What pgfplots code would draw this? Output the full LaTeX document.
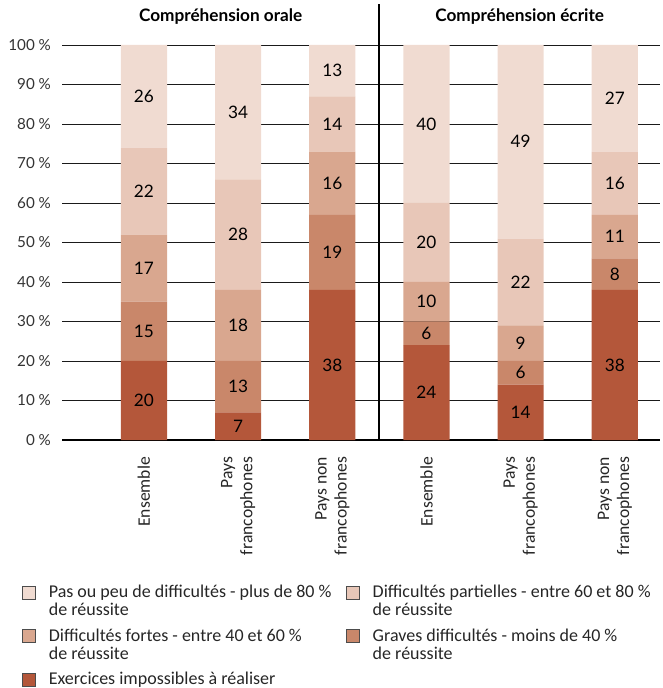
\documentclass[border=0pt]{standalone}
\usepackage{pgfplots}
\pgfplotsset{compat=1.18}
\usepackage{pgfplotstable}
\usepackage{fontspec}
\setmainfont{Lato}
\newfontfamily\narrowfont{Carlito}

\definecolor{cPeu}{HTML}{F0DBD1}
\definecolor{cPart}{HTML}{E8C7B8}
\definecolor{cFort}{HTML}{D9A78F}
\definecolor{cGrav}{HTML}{C9876A}
\definecolor{cImp}{HTML}{B4573A}
\definecolor{cGrid}{HTML}{1A1A1A}

% x = 0..2 : compréhension orale ; x = 3..5 : compréhension écrite
\pgfplotstableread{
x imp grav fort part peu
0 20 15 17 22 26
1  7 13 18 28 34
2 38 19 16 14 13
3 24  6 10 20 40
4 14  6  9 22 49
5 38  8 11 16 27
}\data

\pgfplotsset{
  frame/.style={
    at={(0,0)}, anchor=south west, scale only axis,
    width=299pt, height=197.5pt,
    xmin=-0.87, xmax=5.48, ymin=0, ymax=100,
    /pgf/number format/assume math mode=true,
  },
  sq/.style={legend image code/.code={%
    \draw[##1,draw=black!70,line width=0.45pt] (0pt,-0.6pt) rectangle (6.4pt,5.8pt);}},
}
\newcommand{\entry}[1]{\parbox[t]{146.5pt}{\raggedright #1}}

\begin{document}
\begin{tikzpicture}
\path[use as bounding box] (-31pt,-124pt) rectangle (300pt,220pt);

\begin{axis}[frame,
  ybar stacked, bar width=0.49, clip=false,
  axis x line*=bottom, axis y line*=left,
  y axis line style={draw=none},
  x axis line style={line width=1.1pt, black},
  major tick length=0pt,
  ytick={0,10,...,100},
  ymajorgrids, grid style={cGrid, line width=0.45pt},
  yticklabel={\pgfmathprintnumber{\tick}~\%},
  yticklabel style={font=\fontsize{7.6}{9}\selectfont, text=black!80, xshift=-2pt},
  xtick={0,...,5},
  xticklabels={Ensemble,{Pays\\francophones},{Pays non\\francophones},
               Ensemble,{Pays\\francophones},{Pays non\\francophones}},
  xticklabel style={rotate=90, anchor=east, align=right,
    font=\narrowfont\fontsize{8.8}{10}\selectfont, text=black!85, xshift=-5pt},
  legend columns=2,
  legend style={at={(rel axis cs:-0.067,-0.358)}, anchor=north west,
    draw=none, fill=none, inner sep=0pt, outer sep=0pt,
    font=\narrowfont\fontsize{9}{9}\selectfont, text=black!85,
    cells={anchor=base west, inner sep=0pt},
    row sep=10pt,
    /tikz/every odd column/.append style={column sep=4.6pt},
    /tikz/every even column/.append style={column sep=0pt}},
]
\addplot[fill=cImp,  draw=none, forget plot] table[x=x,y=imp]  {\data};
\addplot[fill=cGrav, draw=none, forget plot] table[x=x,y=grav] {\data};
\addplot[fill=cFort, draw=none, forget plot] table[x=x,y=fort] {\data};
\addplot[fill=cPart, draw=none, forget plot] table[x=x,y=part] {\data};
\addplot[fill=cPeu,  draw=none, forget plot] table[x=x,y=peu]  {\data};

% legend entries, in reading order
\addlegendimage{area legend, fill=cPeu, sq}
\addlegendentry{\entry{Pas ou peu de difficultés - plus de 80~\%\\de réussite}}
\addlegendimage{area legend, fill=cPart, sq}
\addlegendentry{\entry{Difficultés partielles - entre 60 et 80~\%\\de réussite}}
\addlegendimage{area legend, fill=cFort, sq}
\addlegendentry{\entry{Difficultés fortes - entre 40 et 60~\%\\de réussite}}
\addlegendimage{area legend, fill=cGrav, sq}
\addlegendentry{\entry{Graves difficultés - moins de 40~\%\\de réussite}}
\addlegendimage{area legend, fill=cImp, sq}
\addlegendentry{\entry{Exercices impossibles à réaliser}}

% separator between the two panels and panel titles
\draw[line width=1.1pt, black] (axis cs:2.5,0) -- (axis cs:2.5,110.3);
\node[font=\bfseries\fontsize{8.6}{10}\selectfont] at (axis cs:0.815,107.2) {Compréhension orale};
\node[font=\bfseries\fontsize{8.6}{10}\selectfont] at (axis cs:3.99,107.2) {Compréhension écrite};
\end{axis}

% value labels, centred in each segment
\begin{axis}[frame, hide axis,
  nodes near coords, point meta=explicit,
  nodes near coords align=center,
  every node near coord/.append style={font=\fontsize{8.6}{10}\selectfont, text=black, anchor=center},
]
\addplot[draw=none, mark=none] table[x=x, y expr=\thisrow{imp}/2, meta=imp] {\data};
\addplot[draw=none, mark=none] table[x=x, y expr=\thisrow{imp}+\thisrow{grav}/2, meta=grav] {\data};
\addplot[draw=none, mark=none] table[x=x, y expr=\thisrow{imp}+\thisrow{grav}+\thisrow{fort}/2, meta=fort] {\data};
\addplot[draw=none, mark=none] table[x=x, y expr=\thisrow{imp}+\thisrow{grav}+\thisrow{fort}+\thisrow{part}/2, meta=part] {\data};
\addplot[draw=none, mark=none] table[x=x, y expr=100-\thisrow{peu}/2, meta=peu] {\data};
\end{axis}
\end{tikzpicture}
\end{document}
